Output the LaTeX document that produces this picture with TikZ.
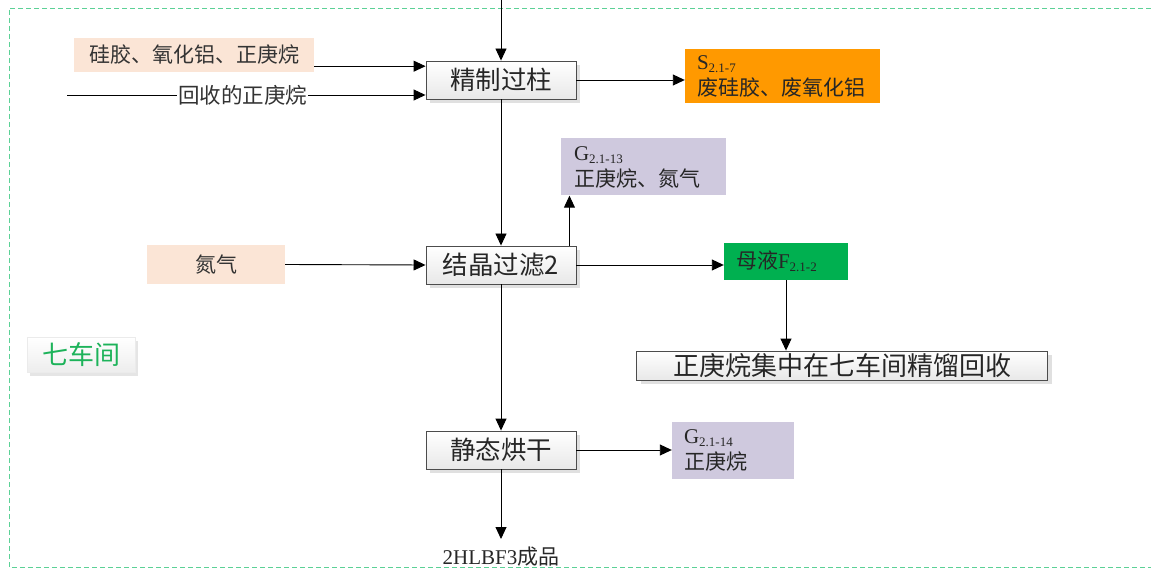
\documentclass[tikz,border=0pt]{standalone}
\usepackage{fontspec}
\setmainfont{Liberation Serif}
\newfontfamily\cjk{Noto Sans CJK SC}
\usetikzlibrary{arrows.meta,shadows,calc}
\definecolor{peach}{HTML}{FBE5D6}
\definecolor{wasteorange}{HTML}{FF9900}
\definecolor{lav}{HTML}{CFC9DE}
\definecolor{liqgreen}{HTML}{00B050}
\definecolor{borderg}{HTML}{5CD196}
\definecolor{txtgreen}{HTML}{1DB35A}
\newcommand{\sbs}[1]{\raisebox{-3pt}{\fontsize{13}{13}\selectfont #1}}
\begin{document}
\begin{tikzpicture}[x=1pt,y=-1pt,
  proc/.style={draw=black!70, line width=0.9pt, top color=white, bottom color=black!9,
    minimum width=150pt, minimum height=38pt, inner sep=0pt,
    drop shadow={shadow xshift=4pt,shadow yshift=-4pt,fill=black!12,opacity=1},
    font=\cjk\fontsize{25.5}{29}\selectfont, text=black!85},
  feed/.style={fill=peach, inner sep=0pt, font=\cjk\fontsize{21}{25}\selectfont, text=black!80},
  tag/.style={inner sep=0pt, align=left, anchor=west, font=\fontsize{21}{26}\selectfont, text=black!85},
  arr/.style={-{Triangle[length=12pt,width=11pt]}, line width=0.9pt, black},
  frame/.style={draw=borderg, dashed, dash pattern=on 5pt off 3pt, line width=0.9pt}
]
\useasboundingbox (0,0) rectangle (1151,569);
\draw[frame] (1151,8) -- (9,8) -- (9,567) -- (1151,567);

% process boxes
\node[proc] (p1) at (501,80) {精制过柱};
\node[proc] (p2) at (501,265) {结晶过滤2};
\node[proc] (p3) at (501,450) {静态烘干};
\node[proc, minimum width=411pt, minimum height=29pt, font=\cjk\fontsize{26}{29}\selectfont] (rc) at (842,365.5) {正庚烷集中在七车间精馏回收};

% 七车间 label
\node[top color=white, bottom color=black!7, draw=black!8, minimum width=108pt, minimum height=35pt, inner sep=0pt,
  drop shadow={shadow xshift=3pt,shadow yshift=-3pt,fill=black!10,opacity=1},
  font=\cjk\fontsize{26}{29}\selectfont, text=txtgreen] (ws) at (81,355) {七车间};

% feeds
\node[feed, minimum width=240pt, minimum height=34pt] (in1) at (194,55) {硅胶、氧化铝、正庚烷};
\node[feed, minimum width=138pt, minimum height=39pt] (n2) at (216,264.5) {氮气};

% outputs
\node[fill=wasteorange, minimum width=195pt, minimum height=54pt, inner sep=0pt] (S) at (782.5,76) {};
\node[tag] (St) at ([xshift=12pt]S.west) {S\sbs{2.1-7}\\{\cjk 废硅胶、废氧化铝}};

\node[fill=lav, minimum width=165pt, minimum height=57pt, inner sep=0pt] (G13) at (643.5,167) {};
\node[tag] (G13t) at ([xshift=13pt]G13.west) {G\sbs{2.1-13}\\{\cjk 正庚烷、氮气}};

\node[fill=lav, minimum width=122pt, minimum height=57pt, inner sep=0pt] (G14) at (733,450) {};
\node[tag] (G14t) at ([xshift=12pt]G14.west) {G\sbs{2.1-14}\\{\cjk 正庚烷}};

\node[fill=liqgreen, minimum width=124pt, minimum height=37pt, inner sep=0pt] (ml) at (786,261.5) {};
\node[tag] (mlt) at ([xshift=12pt]ml.west) {{\cjk 母液}F\sbs{2.1-2}};

\node[inner sep=0pt, anchor=north, font=\fontsize{21}{24}\selectfont, text=black!85] (prod) at (501,547) {2HLBF3{\cjk 成品}};

% connectors
\coordinate (top) at (501,0);
\draw[arr] (top) -- (p1.north);
\coordinate (a1) at ([yshift=6pt]in1.south east);
\draw[arr] (a1) -- (a1 -| p1.west);
\coordinate (r0) at (67,95);
\draw[arr] (r0) -- node[pos=0.49, fill=white, inner sep=1pt, font=\cjk\fontsize{21.5}{25}\selectfont, text=black!80] (rlab) {回收的正庚烷} (r0 -| p1.west);
\draw[arr] (p1.east) -- (p1.east -| S.west);
\draw[arr] (p1.south) -- (p2.north);
\draw[arr] (n2.east) -- (p2.west);
\coordinate (g0) at ([xshift=-7pt]p2.north east);
\draw[arr] (g0) -- (g0 |- G13.south);
\draw[arr] (p2.east) -- (p2.east -| ml.west);
\draw[arr] (ml.south) -- (ml.south |- rc.north);
\draw[arr] (p2.south) -- (p3.north);
\draw[arr] (p3.east) -- (p3.east -| G14.west);
\coordinate (pe) at (501,539);
\draw[arr] (p3.south) -- (pe);
\end{tikzpicture}
\end{document}
